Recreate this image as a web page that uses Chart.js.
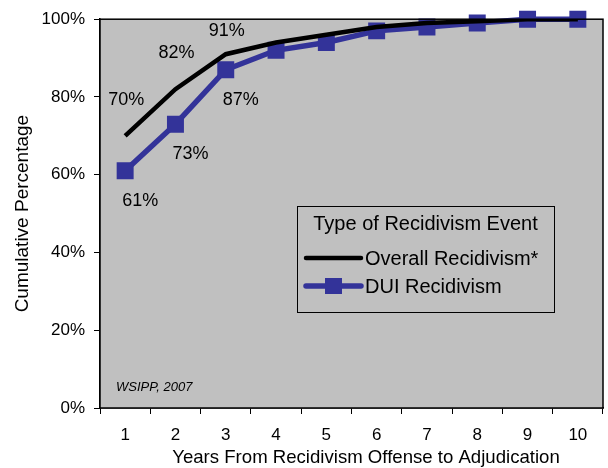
<!DOCTYPE html>
<html>
<head>
<meta charset="utf-8">
<script src="https://cdn.jsdelivr.net/npm/chart.js@4/dist/chart.umd.min.js"></script>
<style>
  html, body { margin: 0; padding: 0; background: #fff; }
  #wrap { width: 608px; height: 468px; }
</style>
</head>
<body>
<div id="wrap"><canvas id="recidChart" width="608" height="468"></canvas></div>
<script>
const years = ['1', '2', '3', '4', '5', '6', '7', '8', '9', '10'];
const overallRecid = [70, 82, 91, 94, 96, 98, 99, 99.5, 100, 100];
const duiRecid = [61, 73, 87, 92, 94, 97, 98, 99, 100, 100];
const labelledPoints = 3; // only first three years carry a value label
const yTicks = [0, 20, 40, 60, 80, 100];
const xTitle = 'Years From Recidivism Offense to Adjudication';

const FONT = '"Liberation Sans", Arial, sans-serif';
const PLOT_BG = '#C0C0C0';
const DUI_BLUE = '#333399';

// grey plot area with a black frame, source note and x title
const plotFrame = {
    id: 'plotFrame',
    beforeDatasetsDraw(chart) {
        const { ctx, chartArea: a } = chart;
        ctx.save();
        ctx.fillStyle = PLOT_BG;
        ctx.fillRect(a.left, a.top, a.right - a.left, a.bottom - a.top);
        ctx.font = 'italic 13px ' + FONT;
        ctx.fillStyle = '#000';
        ctx.textBaseline = 'middle';
        ctx.fillText('WSIPP, 2007', a.left + 16, a.bottom - 21);
        // x title sits a little right of the axis centre in the original
        ctx.font = '18.6px ' + FONT;
        ctx.textAlign = 'center';
        ctx.fillText(xTitle, 366, 458);
        ctx.restore();
    },
    afterDraw(chart) {
        const { ctx, chartArea: a } = chart;
        ctx.save();
        ctx.strokeStyle = '#000';
        ctx.lineWidth = 1.5;
        ctx.strokeRect(a.left, a.top, a.right - a.left, a.bottom - a.top);
        ctx.restore();
    }
};

// value labels on the first points of each line
const valueLabels = {
    id: 'valueLabels',
    afterDatasetsDraw(chart) {
        const { ctx, chartArea: a } = chart;
        ctx.save();
        ctx.font = '18px ' + FONT;
        ctx.fillStyle = '#000';
        ctx.textAlign = 'center';
        ctx.textBaseline = 'middle';
        chart.data.datasets.forEach((ds, i) => {
            const meta = chart.getDatasetMeta(i);
            const dx = i === 0 ? 1 : 15;
            const dy = i === 0 ? -36 : 30;
            for (let k = 0; k < labelledPoints; k++) {
                const p = meta.data[k];
                const y = Math.max(p.y + dy, a.top + 12);
                ctx.fillText(Math.round(ds.data[k]) + '%', p.x + dx, y);
            }
        });
        ctx.restore();
    }
};

// boxed legend inside the plot
const boxLegend = {
    id: 'boxLegend',
    afterDraw(chart) {
        const { ctx } = chart;
        const x0 = 297, y0 = 206, w = 257, h = 106;
        ctx.save();
        ctx.fillStyle = PLOT_BG;
        ctx.fillRect(x0, y0, w, h);
        ctx.strokeStyle = '#000';
        ctx.lineWidth = 1;
        ctx.strokeRect(x0 + 0.5, y0 + 0.5, w, h);
        ctx.font = '20px ' + FONT;
        ctx.fillStyle = '#000';
        ctx.textBaseline = 'middle';
        ctx.textAlign = 'center';
        ctx.fillText('Type of Recidivism Event', x0 + w / 2, y0 + 18);
        ctx.textAlign = 'left';
        const rows = [y0 + 52, y0 + 80];
        chart.data.datasets.forEach((ds, i) => {
            const y = rows[i];
            ctx.strokeStyle = ds.borderColor;
            ctx.lineWidth = ds.borderWidth;
            ctx.lineCap = 'round';
            ctx.beginPath();
            ctx.moveTo(x0 + 9, y);
            ctx.lineTo(x0 + 64, y);
            ctx.stroke();
            if (ds.pointRadius > 0) {
                ctx.fillStyle = ds.pointBackgroundColor;
                ctx.fillRect(x0 + 28, y - 8, 17, 16);
            }
            ctx.fillStyle = '#000';
            ctx.fillText(ds.label, x0 + 68, y + 1);
        });
        ctx.restore();
    }
};

new Chart(document.getElementById('recidChart').getContext('2d'), {
    type: 'line',
    data: {
        labels: years,
        datasets: [{
            label: 'Overall Recidivism*',
            data: overallRecid,
            borderColor: '#000',
            borderWidth: 4.5,
            pointRadius: 0,
            tension: 0
        }, {
            label: 'DUI Recidivism',
            data: duiRecid,
            borderColor: DUI_BLUE,
            borderWidth: 5.5,
            pointStyle: 'rect',
            pointRadius: 12,
            pointBackgroundColor: DUI_BLUE,
            pointBorderColor: DUI_BLUE,
            pointBorderWidth: 0,
            tension: 0,
            clip: 12
        }]
    },
    options: {
        responsive: false,
        animation: false,
        layout: { autoPadding: false, padding: { left: 0, top: 18, right: 5, bottom: 0 } },
        plugins: {
            legend: { display: false },
            tooltip: { enabled: false }
        },
        scales: {
            x: {
                offset: true,
                grid: { offset: true, drawOnChartArea: false, tickLength: 6, color: '#000', lineWidth: 1 },
                border: { color: '#000', width: 1.5 },
                ticks: { color: '#000', font: { family: FONT, size: 17 }, padding: 11, maxRotation: 0 },
                afterFit(scale) {
                    scale.height = 60;
                    scale.paddingLeft = 0;
                    scale.paddingRight = 0;
                }
            },
            y: {
                min: 0,
                max: 100,
                afterBuildTicks(scale) { scale.ticks = yTicks.map(v => ({ value: v })); },
                grid: { drawOnChartArea: false, tickLength: 6, color: '#000', lineWidth: 1 },
                border: { color: '#000', width: 1.5 },
                ticks: {
                    color: '#000',
                    font: { family: FONT, size: 17 },
                    padding: 9,
                    callback: v => v + '%'
                },
                title: {
                    display: true,
                    text: 'Cumulative Percentage',
                    color: '#000',
                    font: { family: FONT, size: 19, lineHeight: 1.2 },
                    padding: { top: 11, bottom: 0 }
                },
                afterFit(scale) { scale.width = 100; }
            }
        }
    },
    plugins: [plotFrame, valueLabels, boxLegend]
});
</script>
</body>
</html>
